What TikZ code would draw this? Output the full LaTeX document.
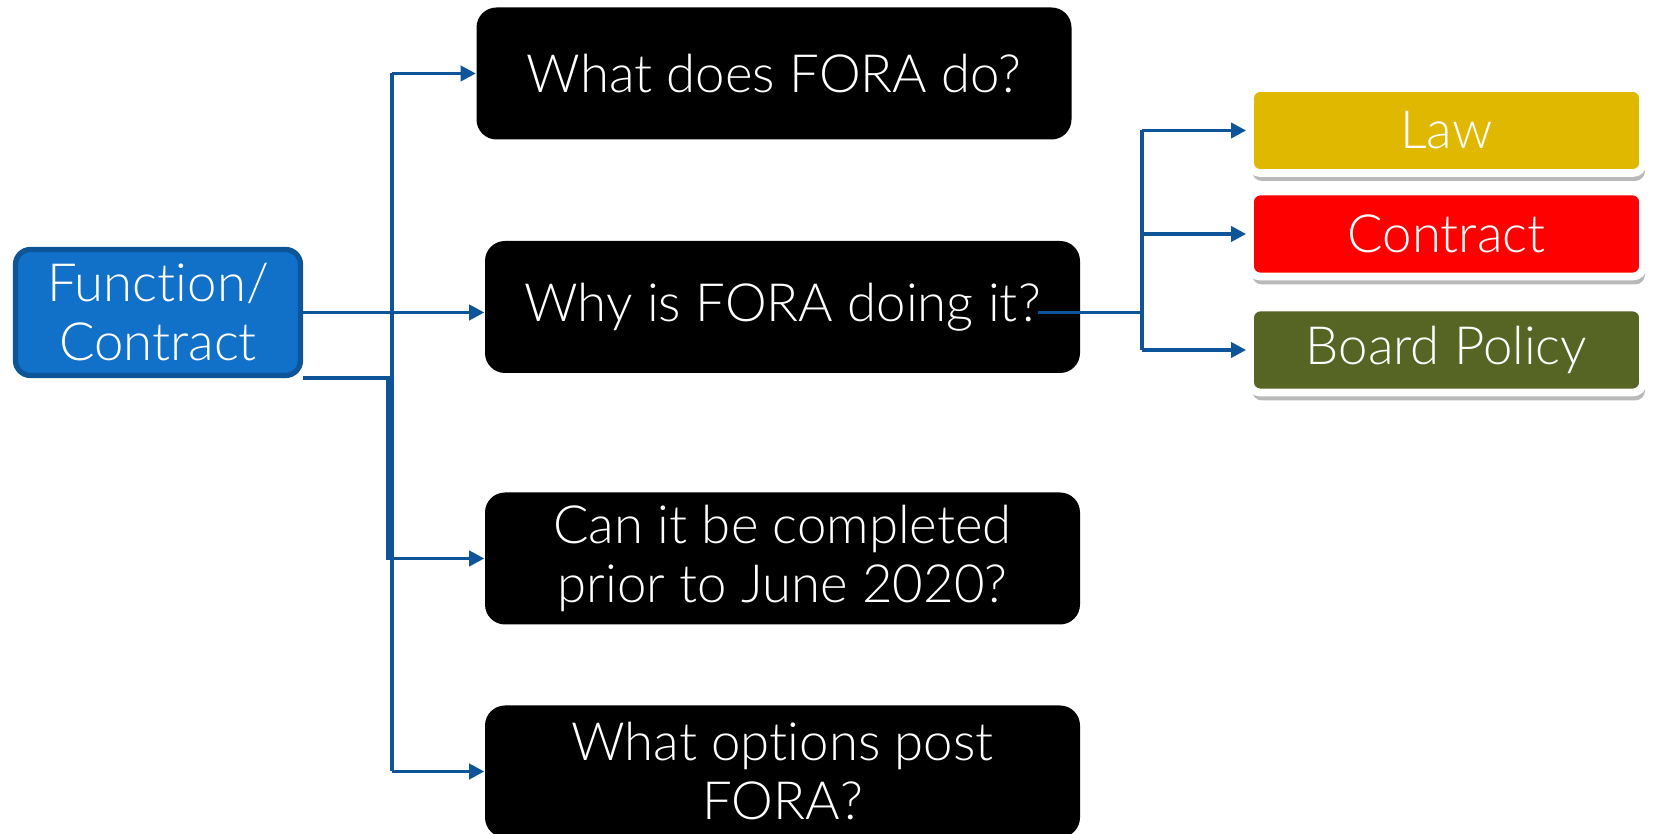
\documentclass[tikz,border=0pt]{standalone}
\usepackage{fontspec}
\setmainfont{Lato}[UprightFont={* Light}, Ligatures={NoCommon, NoContextual, NoRare}, Contextuals={NoAlternate}]
\usetikzlibrary{arrows.meta, shadows}

\definecolor{fnblue}{RGB}{17,112,200}
\definecolor{fnedge}{RGB}{13,85,150}
\definecolor{wire}{RGB}{14,84,152}
\definecolor{lawgold}{RGB}{224,184,0}
\definecolor{polgreen}{RGB}{86,100,36}

\begin{document}
\begin{tikzpicture}[
	bigtext/.style={font=\fontsize{15}{16.8}\selectfont, text=white, align=center},
	qbox/.style={shape=rectangle, rounded corners=0.2cm, fill=black, bigtext, minimum width=5.95cm, minimum height=1.32cm},
	rbox/.style={shape=rectangle, rounded corners=0.1cm, draw=white, line width=2.2pt, bigtext, minimum width=3.93cm, minimum height=0.85cm,
		drop shadow={shadow xshift=0.02cm, shadow yshift=-0.08cm, fill=black!55, opacity=0.5}},
	link/.style={draw=wire, line width=1pt},
	conn/.style={link, -{Triangle[length=4.3pt, width=4.3pt]}}
]
	% Paths, nodes and wires:
	\useasboundingbox (0, 0) rectangle (16.53, 8.34);

	\node[shape=rectangle, rounded corners=0.15cm, draw=fnedge, fill=fnblue, line width=1.5pt, bigtext, minimum width=2.85cm, minimum height=1.26cm](N1) at (1.58, 5.215){Function/\\Contract};
	\node[qbox](N2) at (7.74, 7.605){What does FORA do?};
	\node[qbox](N3) at (7.825, 5.27){Why is FORA doing it?};
	\node[qbox](N4) at (7.825, 2.755){Can it be completed\\prior to June 2020?};
	\node[qbox](N5) at (7.825, 0.625){What options post\\FORA?};
	\node[rbox, fill=lawgold](N6) at (14.465, 7.035){Law};
	\node[rbox, fill=red](N7) at (14.465, 6.0){Contract};
	\node[rbox, fill=polgreen](N8) at (14.465, 4.84){Board Policy};

	\coordinate (T1) at (3.92, 0);
	\coordinate (T2) at (11.42, 0);

	\draw[conn] (N1.east) -- (N1.east -| N3.west);
	\draw[link] (T1 |- N2.west) -- (T1 |- N5.west);
	\draw[conn] (T1 |- N2.west) -- (N2.west);
	\draw[conn] (T1 |- N5.west) -- (N5.west);
	\draw[conn] (N1.south east) -| ([xshift=-0.04cm]T1 |- N4.west) -- (N4.west);

	\draw[link] ([xshift=-0.43cm]N3.east |- N1.east) -- (T2 |- N1.east);
	\draw[link] (T2 |- N6.west) -- (T2 |- N8.west);
	\draw[conn] (T2 |- N6.west) -- (N6.west);
	\draw[conn] (T2 |- N7.west) -- (N7.west);
	\draw[conn] (T2 |- N8.west) -- (N8.west);
\end{tikzpicture}
\end{document}
